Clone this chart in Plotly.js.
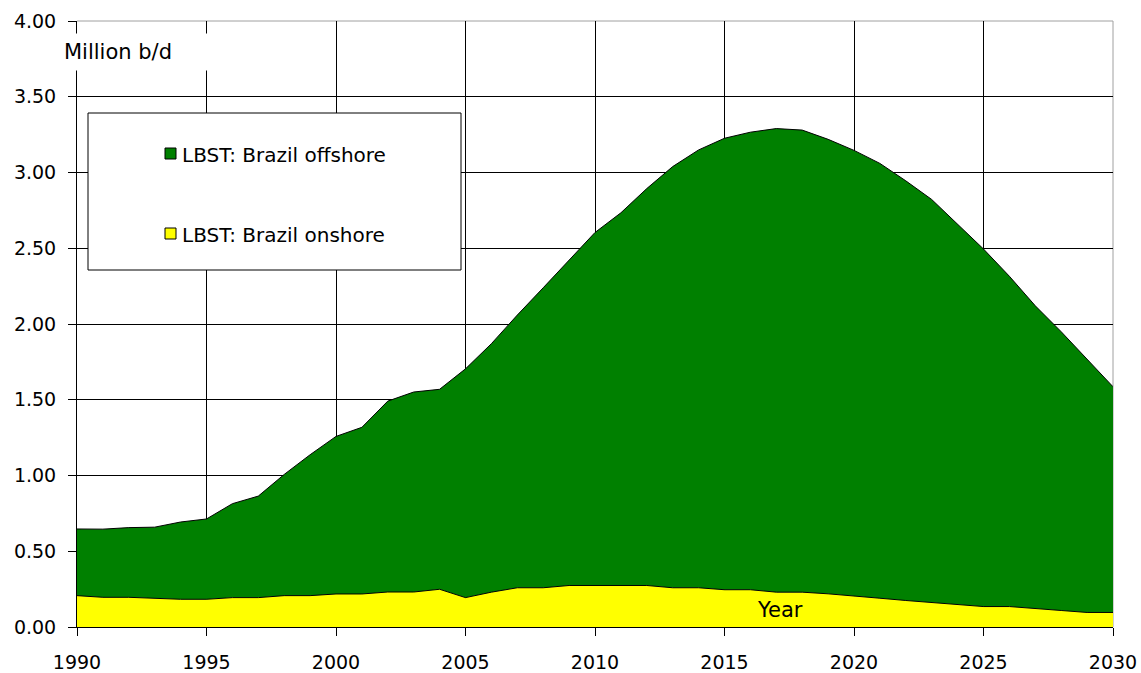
<!DOCTYPE html>
<html>
<head>
<meta charset="utf-8">
<script src="https://cdn.plot.ly/plotly-3.0.1.min.js"></script>
<style>
html,body{margin:0;padding:0;background:#fff;}
#chart{width:1141px;height:673px;}
</style>
</head>
<body>
<div id="chart"></div>
<script>
// ---- data (million barrels per day) ----
const years = [1990,1991,1992,1993,1994,1995,1996,1997,1998,1999,
               2000,2001,2002,2003,2004,2005,2006,2007,2008,2009,
               2010,2011,2012,2013,2014,2015,2016,2017,2018,2019,
               2020,2021,2022,2023,2024,2025,2026,2027,2028,2029,2030];
const onshore = [0.207,0.196,0.196,0.189,0.183,0.183,0.194,0.194,0.207,0.207,
                 0.218,0.218,0.231,0.231,0.249,0.194,0.230,0.259,0.259,0.274,
                 0.274,0.274,0.274,0.259,0.259,0.246,0.246,0.230,0.230,0.219,
                 0.206,0.190,0.175,0.162,0.150,0.135,0.135,0.120,0.109,0.096,0.096];
const offshore = [0.44,0.45,0.46,0.47,0.51,0.53,0.62,0.67,0.80,0.93,
                  1.04,1.10,1.26,1.32,1.32,1.51,1.64,1.80,1.98,2.15,
                  2.33,2.46,2.62,2.78,2.89,2.98,3.02,3.06,3.05,3.00,
                  2.94,2.87,2.77,2.66,2.51,2.36,2.18,2.00,1.84,1.67,1.49];
const seriesNames = ['LBST: Brazil offshore', 'LBST: Brazil onshore'];
const seriesColors = ['#008000', '#ffff00'];
const xTickVals = [1990,1995,2000,2005,2010,2015,2020,2025,2030];
const yTickVals = [0,0.5,1,1.5,2,2.5,3,3.5,4];
const yTickText = ['0.00','0.50','1.00','1.50','2.00','2.50','3.00','3.50','4.00'];
const yUnitLabel = 'Million b/d';
const xTitle = 'Year';

// ---- layout helpers (pixel -> paper) ----
const W = 1141, H = 673;
const M = {l:77, r:28, t:21, b:46};
const PW = W - M.l - M.r, PH = H - M.t - M.b;
const px = x => (x - M.l) / PW;
const py = y => (H - M.b - y) / PH;
const FONT = 'DejaVu Sans, Verdana, sans-serif';

const traces = [
  {
    x: years, y: onshore, name: seriesNames[1], type: 'scatter', mode: 'lines',
    stackgroup: 'one', line: {color: '#000', width: 1}, fillcolor: seriesColors[1],
    hoverinfo: 'x+y+name'
  },
  {
    x: years, y: offshore, name: seriesNames[0], type: 'scatter', mode: 'lines',
    stackgroup: 'one', line: {color: '#000', width: 1}, fillcolor: seriesColors[0],
    hoverinfo: 'x+y+name'
  }
];

const axisCommon = {
  ticks: 'outside', ticklen: 8, tickcolor: '#000', tickwidth: 1,
  showline: true, linecolor: '#000', linewidth: 1,
  showgrid: true, gridcolor: '#000', gridwidth: 1,
  zeroline: false, fixedrange: true,
  tickfont: {family: FONT, size: 19, color: '#000'}
};

const layout = {
  width: W, height: H,
  margin: {l: M.l, r: M.r, t: M.t, b: M.b, pad: 0},
  paper_bgcolor: '#fff', plot_bgcolor: '#fff',
  showlegend: false,
  xaxis: Object.assign({}, axisCommon, {
    range: [1990, 2030], tickmode: 'array', tickvals: xTickVals,
    ticklabelstandoff: 10
  }),
  yaxis: Object.assign({}, axisCommon, {
    range: [0, 4], tickmode: 'array', tickvals: yTickVals, ticktext: yTickText,
    ticklabelstandoff: 8
  }),
  shapes: [
    // grey top and right frame
    {type: 'line', xref: 'paper', yref: 'paper', x0: 0, x1: 1, y0: 1, y1: 1,
     line: {color: '#a0a0a0', width: 1}, layer: 'between'},
    {type: 'line', xref: 'paper', yref: 'paper', x0: 1, x1: 1, y0: 0, y1: 1,
     line: {color: '#a0a0a0', width: 1}, layer: 'between'},
    // legend box
    {type: 'rect', xref: 'paper', yref: 'paper',
     x0: px(88), x1: px(461), y0: py(270), y1: py(113),
     fillcolor: '#fff', line: {color: '#000', width: 1}, layer: 'above'},
    // legend swatches
    {type: 'rect', xref: 'paper', yref: 'paper',
     x0: px(165), x1: px(176), y0: py(159), y1: py(148),
     fillcolor: seriesColors[0], line: {color: '#000', width: 1}, layer: 'above'},
    {type: 'rect', xref: 'paper', yref: 'paper',
     x0: px(165), x1: px(176), y0: py(239), y1: py(228),
     fillcolor: seriesColors[1], line: {color: '#000', width: 1}, layer: 'above'}
  ],
  annotations: [
    {text: yUnitLabel, xref: 'paper', yref: 'paper', x: px(63), y: py(52),
     xanchor: 'left', yanchor: 'middle', showarrow: false, align: 'left',
     width: 148, height: 36, borderpad: 0, bgcolor: '#fff',
     font: {family: FONT, size: 21, color: '#000'}},
    {text: seriesNames[0], xref: 'paper', yref: 'paper', x: px(180), y: py(155),
     xanchor: 'left', yanchor: 'middle', showarrow: false,
     font: {family: FONT, size: 20, color: '#000'}},
    {text: seriesNames[1], xref: 'paper', yref: 'paper', x: px(180), y: py(235),
     xanchor: 'left', yanchor: 'middle', showarrow: false,
     font: {family: FONT, size: 20, color: '#000'}},
    {text: xTitle, xref: 'paper', yref: 'paper', x: px(780), y: py(610),
     xanchor: 'center', yanchor: 'middle', showarrow: false,
     font: {family: FONT, size: 21, color: '#000'}}
  ]
};

Plotly.newPlot('chart', traces, layout, {displayModeBar: false, staticPlot: true});
</script>
</body>
</html>
